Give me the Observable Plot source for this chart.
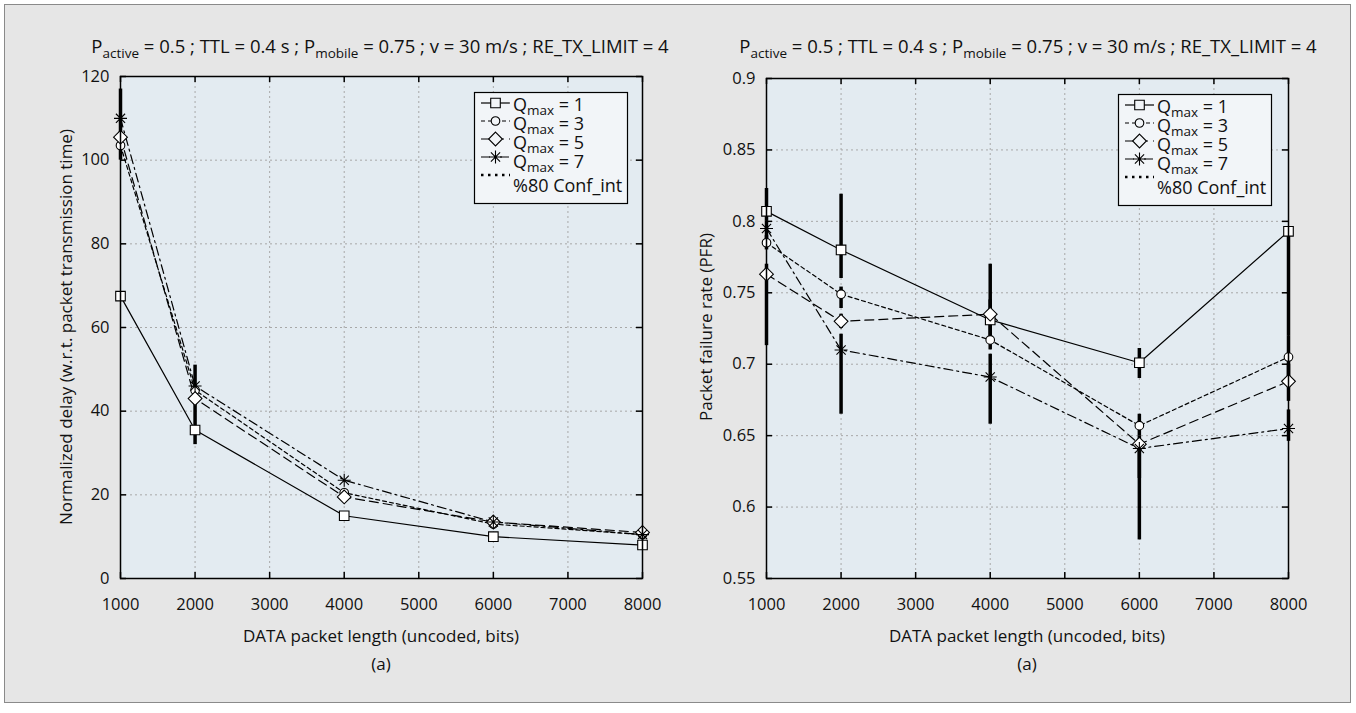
<!DOCTYPE html>
<html><head><meta charset="utf-8">
<script src="https://cdn.jsdelivr.net/npm/d3@7"></script>
<script src="https://cdn.jsdelivr.net/npm/@observablehq/plot@0.6"></script>
<style>
body{margin:0;background:#fff;font-family:"Open Sans",sans-serif;color:#111;}
#page{position:absolute;left:4px;top:4px;width:1347px;height:699px;background:#e6e6e6;border:1.5px solid #8a8a8a;box-sizing:border-box;}
.title{position:absolute;white-space:nowrap;font-size:18.5px;line-height:22px;transform:translateX(-50%);}
.title sub{font-size:13.5px;vertical-align:-5px;line-height:0;}
.xlab{position:absolute;white-space:nowrap;font-size:17px;line-height:22px;transform:translateX(-50%);}
.ylab{position:absolute;white-space:nowrap;font-size:17px;line-height:22px;transform:translate(-50%,-50%) rotate(-90deg);}
</style></head><body>
<div id="page"></div>
<script>
// ---------- data ----------
const packetLength = [1000, 2000, 4000, 6000, 8000];
const qmax = [1, 3, 5, 7];
// Normalized delay (left)
const delayQ1 = [67.5, 35.5, 15, 10, 8];
const delayQ3 = [103.5, 45, 20.5, 13, 10.5];
const delayQ5 = [105.5, 43, 19.5, 13.5, 11];
const delayQ7 = [110, 46, 23.5, 13.5, 10.5];
// 80% confidence intervals (left), null = not visible
const delayLoQ7 = [100, 32, null, null, null];
const delayHiQ7 = [117, 51, null, null, null];
// Packet failure rate (right)
const pfrQ1 = [0.807, 0.780, 0.731, 0.701, 0.793];
const pfrQ3 = [0.785, 0.749, 0.717, 0.657, 0.705];
const pfrQ5 = [0.763, 0.730, 0.735, 0.644, 0.688];
const pfrQ7 = [0.795, 0.710, 0.691, 0.641, 0.655];
const pfrLoQ1 = [0.800, 0.760, 0.720, 0.690, 0.720];
const pfrHiQ1 = [0.823, 0.819, 0.770, 0.711, 0.793];
const pfrLoQ3 = [0.780, 0.739, 0.710, 0.650, 0.690];
const pfrHiQ3 = [0.790, 0.754, 0.720, 0.665, 0.720];
const pfrLoQ5 = [0.713, 0.725, 0.720, 0.620, 0.674];
const pfrHiQ5 = [0.770, 0.735, 0.745, 0.650, 0.700];
const pfrLoQ7 = [0.785, 0.665, 0.658, 0.577, 0.646];
const pfrHiQ7 = [0.800, 0.721, 0.707, 0.645, 0.668];
// ticks
const xTicks = [1000, 2000, 3000, 4000, 5000, 6000, 7000, 8000];
const delayTicks = [0, 20, 40, 60, 80, 100, 120];
const pfrTicks = [0.55, 0.6, 0.65, 0.7, 0.75, 0.8, 0.85, 0.9];
const titleHTML = "P<sub>active</sub> = 0.5 ; TTL = 0.4 s ; P<sub>mobile</sub> = 0.75 ; v = 30 m/s ; RE_TX_LIMIT = 4";
const xTitle = "DATA packet length (uncoded, bits)";

// ---------- styles ----------
const asterisk8 = {draw(ctx, size){ const r = Math.sqrt(size/Math.PI); const d = r*0.7071;
  ctx.moveTo(-r,0);ctx.lineTo(r,0);ctx.moveTo(0,-r);ctx.lineTo(0,r);
  ctx.moveTo(-d,-d);ctx.lineTo(d,d);ctx.moveTo(-d,d);ctx.lineTo(d,-d);}};
const seriesStyle = [
  {dash: null, symbol: "square", r: 5.4, fill: "white"},
  {dash: "4,3", symbol: "circle", r: 4.3, fill: "white"},
  {dash: "9,5", symbol: "diamond2", r: 6.2, fill: "white"},
  {dash: "9,4,2,4", symbol: asterisk8, r: 6.5, fill: "none"}
];
const plotBg = "#e3ebf1";

function rows(ys, lo, hi){
  return packetLength.map((x,i)=>({x, y: ys[i], lo: lo ? lo[i] : null, hi: hi ? hi[i] : null}));
}

function makeChart({series, yDomain, yTicks, yFormat, width, height, ml, mr, mt, mb}){
  const pw = width - ml - mr, ph = height - mt - mb;
  const marks = [
    Plot.frame({fill: plotBg, stroke: null}),
    Plot.gridX(xTicks, {stroke: "#a8a8a8", strokeOpacity: 1, strokeDasharray: "2,3"}),
    Plot.gridY(yTicks, {stroke: "#a8a8a8", strokeOpacity: 1, strokeDasharray: "2,3"}),
    Plot.ruleY(yTicks, {insetRight: pw - 6, stroke: "black", strokeWidth: 1.5}),
    Plot.ruleY(yTicks, {insetLeft: pw - 6, stroke: "black", strokeWidth: 1.5}),
    Plot.ruleX(xTicks, {insetTop: ph - 6, stroke: "black", strokeWidth: 1.5}),
    Plot.ruleX(xTicks, {insetBottom: ph - 6, stroke: "black", strokeWidth: 1.5}),
    Plot.axisX(xTicks, {tickSize: 0, tickPadding: 20, fontSize: 16.5, label: null, tickFormat: d => String(d)}),
    Plot.axisY(yTicks, {tickSize: 0, tickPadding: 11, fontSize: 16.5, label: null, tickFormat: yFormat})
  ];
  series.forEach((s, k) => {
    const st = seriesStyle[k];
    marks.push(Plot.line(s, {x: "x", y: "y", stroke: "black", strokeWidth: 1.2, strokeDasharray: st.dash}));
  });
  series.forEach((s, k) => {
    marks.push(Plot.ruleX(s.filter(d => d.lo != null), {x: "x", y1: "lo", y2: "hi", stroke: "black", strokeWidth: 3.5}));
  });
  series.forEach((s, k) => {
    const st = seriesStyle[k];
    marks.push(Plot.dot(s, {x: "x", y: "y", symbol: st.symbol, r: st.r, stroke: "black", strokeWidth: 1.1, fill: st.fill}));
  });
  marks.push(Plot.frame({stroke: "black", strokeWidth: 1.5}));
  return Plot.plot({
    width, height, marginLeft: ml, marginRight: mr, marginTop: mt, marginBottom: mb,
    style: {background: "transparent", fontFamily: "'Open Sans', sans-serif", color: "#111"},
    x: {domain: [1000, 8000]},
    y: {domain: yDomain},
    marks
  });
}

function legendSVG(){
  const w = 153, h = 111;
  const svg = d3.create("svg").attr("width", w + 2).attr("height", h + 2)
    .style("overflow", "visible").style("font-family", "'Open Sans', sans-serif");
  svg.append("rect").attr("x", 0.5).attr("y", 0.5).attr("width", w).attr("height", h)
    .attr("fill", "#f2f5f8").attr("stroke", "black").attr("stroke-width", 1.2);
  const lineY = [11, 29, 47, 65];
  const textY = [19, 38, 57, 76];
  qmax.forEach((q, k) => {
    const st = seriesStyle[k];
    svg.append("line").attr("x1", 7).attr("x2", 36).attr("y1", lineY[k]).attr("y2", lineY[k])
      .attr("stroke", "black").attr("stroke-width", 1.2).attr("stroke-dasharray", st.dash);
    const sym = typeof st.symbol === "string" ? {square: d3.symbolSquare, circle: d3.symbolCircle, diamond2: d3.symbolDiamond2}[st.symbol] : st.symbol;
    svg.append("path").attr("transform", `translate(21.5,${lineY[k]})`)
      .attr("d", d3.symbol(sym, Math.PI * st.r * st.r)())
      .attr("fill", st.fill === "none" ? "none" : "#f2f5f8").attr("stroke", "black").attr("stroke-width", 1.1);
    const t = svg.append("text").attr("x", 39).attr("y", textY[k]).attr("font-size", 18).attr("fill", "#111");
    t.append("tspan").text("Q");
    t.append("tspan").attr("dy", 4).attr("font-size", 13.5).text("max");
    t.append("tspan").attr("dy", -4).text(` = ${q}`);
  });
  svg.append("line").attr("x1", 7).attr("x2", 36).attr("y1", 83).attr("y2", 83)
    .attr("stroke", "black").attr("stroke-width", 2.5).attr("stroke-dasharray", "2.5,4.5");
  svg.append("text").attr("x", 39).attr("y", 100).attr("font-size", 18).attr("fill", "#111").text("%80 Conf_int");
  return svg.node();
}

function place(el, left, top){ el.style.position = "absolute"; el.style.left = left + "px"; el.style.top = top + "px"; document.body.appendChild(el); return el; }
function addDiv(cls, html, left, top){ const d = document.createElement("div"); d.className = cls; d.innerHTML = html; d.style.left = left + "px"; d.style.top = top + "px"; document.body.appendChild(d); return d; }

// ---------- left chart ----------
const leftSeries = [rows(delayQ1), rows(delayQ3), rows(delayQ5), rows(delayQ7, delayLoQ7, delayHiQ7)];
place(makeChart({series: leftSeries, yDomain: [0, 120], yTicks: delayTicks, yFormat: d => String(d),
  width: 680, height: 700, ml: 120, mr: 38, mt: 76, mb: 122}), 0, 0);
addDiv("title", titleHTML, 380, 35);
addDiv("xlab", xTitle, 381, 625);
addDiv("xlab", "(a)", 381, 653);
addDiv("ylab", "Normalized delay (w.r.t. packet transmission time)", 66, 327);
place(legendSVG(), 474, 92);

// ---------- right chart ----------
const rightSeries = [rows(pfrQ1, pfrLoQ1, pfrHiQ1), rows(pfrQ3, pfrLoQ3, pfrHiQ3), rows(pfrQ5, pfrLoQ5, pfrHiQ5), rows(pfrQ7, pfrLoQ7, pfrHiQ7)];
place(makeChart({series: rightSeries, yDomain: [0.55, 0.9], yTicks: pfrTicks, yFormat: d => String(+d.toFixed(2)),
  width: 676, height: 700, ml: 86, mr: 68, mt: 78, mb: 122}), 680, 0);
addDiv("title", titleHTML, 1028, 35);
addDiv("xlab", xTitle, 1027, 625);
addDiv("xlab", "(a)", 1027, 653);
addDiv("ylab", "Packet failure rate (PFR)", 706, 327);
place(legendSVG(), 1118, 94);
</script>
</body></html>
